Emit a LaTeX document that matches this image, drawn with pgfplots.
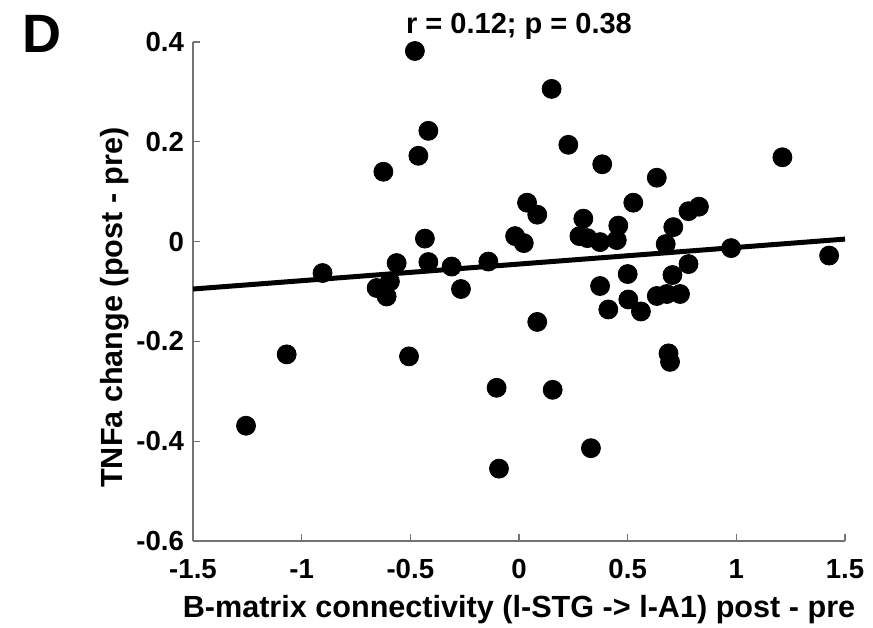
\documentclass[border=0pt]{standalone}
\usepackage{fontspec}
\setmainfont{Liberation Sans}
\usepackage{pgfplots}
\pgfplotsset{compat=1.18}

\begin{document}
\begin{tikzpicture}
  \useasboundingbox (-96.5pt,-43pt) rectangle (340pt,270.5pt);
  \begin{axis}[
      at={(0,0)}, anchor=south west,
      scale only axis, width=326pt, height=249.5pt,
      xmin=-1.5, xmax=1.5, ymin=-0.6, ymax=0.4,
      xtick={-1.5,-1,-0.5,0,0.5,1,1.5},
      ytick={-0.6,-0.4,-0.2,0,0.2,0.4},
      axis x line*=bottom, axis y line*=left,
      axis line style={black!55, line width=0.6pt},
      tick style={black!55, line width=0.6pt},
      tick align=inside, major tick length=3.5pt,
      /pgf/number format/assume math mode=true,
      every tick label/.append style={font=\fontsize{13.8}{16}\selectfont\bfseries},
      xticklabel style={yshift=-5.5pt},
      yticklabel style={xshift=-1pt},
      every axis title shift=0pt,
      title={r = 0.12; p = 0.38},
      title style={at={(axis description cs:0.5,1)}, anchor=base, yshift=4.4pt, inner sep=0pt,
        font=\fontsize{14.5}{17}\selectfont\bfseries},
      xlabel={B-matrix connectivity (l-STG -> l-A1) post - pre},
      xlabel style={at={(axis description cs:0.5,0)}, anchor=base, yshift=-38pt, inner sep=0pt,
        font=\fontsize{15.3}{18}\selectfont\bfseries},
      ylabel={TNFa change (post - pre)},
      ylabel style={at={([xshift=-35pt,yshift=-8pt]axis description cs:0,0.5)}, anchor=base, rotate=0, inner sep=0pt,
        font=\fontsize{15.3}{18}\selectfont\bfseries},
      clip=false,
    ]
    % regression line
    \addplot[black, line width=2.5pt] coordinates {(-1.5,-0.095) (1.5,0.005)};
    % subjects
    \addplot[only marks, mark=*, mark size=4.75pt, mark options={fill=black, draw=black}] coordinates {
      (-0.479,0.382) (-0.417,0.222) (-0.463,0.172) (-0.624,0.140) (-0.433,0.006)
      (0.037,0.078) (0.084,0.054) (-0.018,0.011) (0.022,-0.003)
      (-0.904,-0.063) (-0.563,-0.043) (-0.417,-0.041) (-0.310,-0.050) (-0.141,-0.040)
      (-0.655,-0.093) (-0.609,-0.110) (-0.594,-0.080) (-0.267,-0.095)
      (-1.069,-0.226) (-0.506,-0.230) (-1.256,-0.369) (-0.103,-0.293) (-0.092,-0.455)
      (0.150,0.306) (0.227,0.194) (0.383,0.155) (0.634,0.128) (1.212,0.169)
      (0.526,0.078) (0.296,0.046) (0.278,0.011) (0.315,0.007) (0.373,-0.001)
      (0.457,0.032) (0.450,0.003) (0.710,0.029) (0.780,0.061) (0.828,0.070)
      (0.675,-0.005) (0.976,-0.013) (1.427,-0.028) (0.780,-0.045) (0.500,-0.065)
      (0.706,-0.067) (0.373,-0.089) (0.411,-0.136) (0.503,-0.116) (0.561,-0.140)
      (0.634,-0.109) (0.680,-0.105) (0.741,-0.105) (0.084,-0.161)
      (0.688,-0.224) (0.695,-0.241) (0.155,-0.297) (0.331,-0.414)
    };
  \end{axis}
  \node[anchor=base west, inner sep=0pt, font=\fontsize{27}{30}\selectfont\bfseries] at (-85.5pt,244pt) {D};
\end{tikzpicture}
\end{document}
